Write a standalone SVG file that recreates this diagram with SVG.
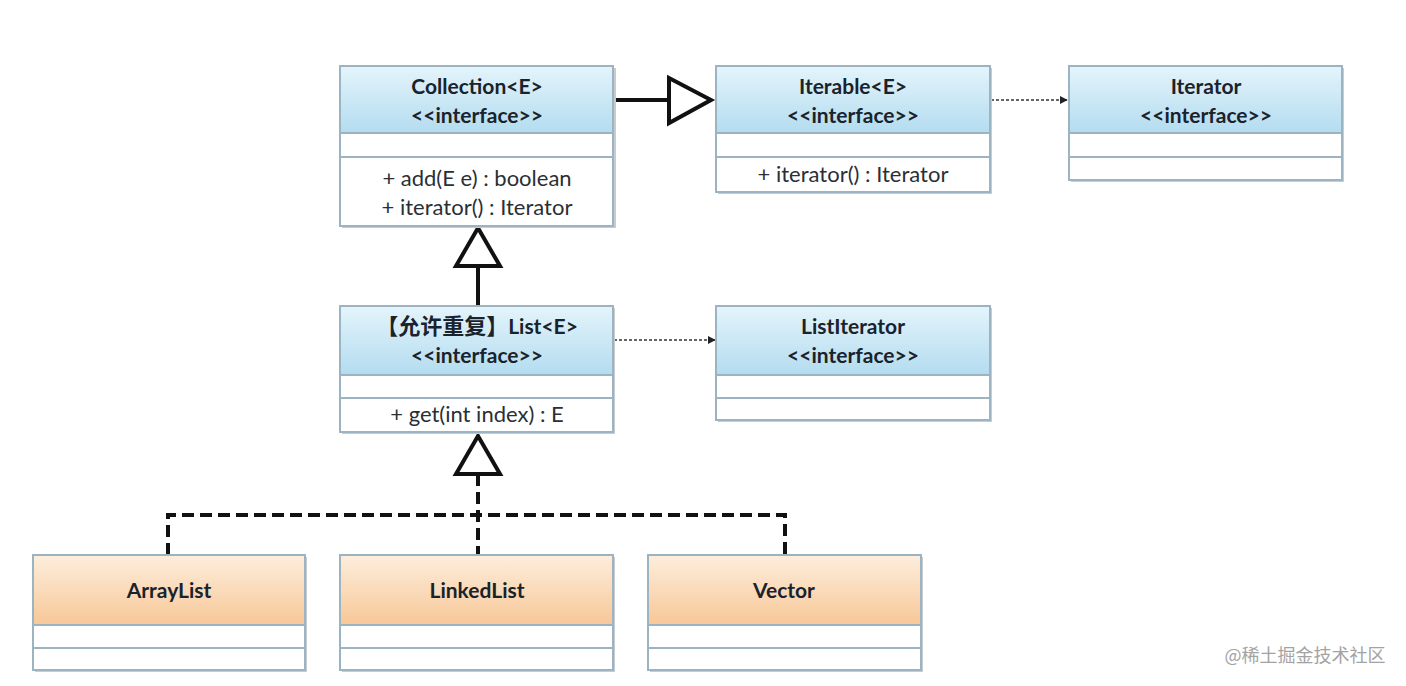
<svg xmlns="http://www.w3.org/2000/svg" width="1406" height="686" viewBox="0 0 1406 686">
<defs>
<linearGradient id="blue" x1="0" y1="0" x2="0" y2="1">
<stop offset="0" stop-color="#e4f4fb"/>
<stop offset="1" stop-color="#b3dcf0"/>
</linearGradient>
<linearGradient id="orange" x1="0" y1="0" x2="0" y2="1">
<stop offset="0" stop-color="#fdeedd"/>
<stop offset="1" stop-color="#f7c797"/>
</linearGradient>
<marker id="dot" viewBox="0 0 10 10" refX="9" refY="5" markerWidth="8" markerHeight="8" markerUnits="userSpaceOnUse" orient="auto">
<path d="M0,0 L10,5 L0,10 z" fill="#222"/>
</marker>
</defs>
<style>
.box{stroke:#9cb3c2;stroke-width:2}
.hb{fill:url(#blue)}
.ho{fill:url(#orange)}
.cp{fill:#ffffff}
.sh{fill:#c8ccd0}
.t{font-family:Lato,"Noto Sans CJK SC",sans-serif;font-weight:bold;font-size:21px;fill:#1a222b;text-anchor:middle}
.m{font-family:Lato,"Noto Sans CJK SC",sans-serif;font-size:22px;fill:#2a2f35;text-anchor:middle}
.solid{stroke:#111;stroke-width:4;fill:none}
.dash{stroke:#111;stroke-width:4;fill:none;stroke-dasharray:12 6}
.dotted{stroke:#333;stroke-width:1.5;fill:none;stroke-dasharray:3 2}
.tri{fill:#fff;stroke:#111;stroke-width:4;stroke-linejoin:miter}
</style>
<rect width="1406" height="686" fill="#ffffff"/>

<g id="connectors">
<line class="solid" x1="614" y1="100" x2="669" y2="100"/>
<polygon class="tri" points="669,78 711,100 669,123"/>
<line class="dotted" x1="991" y1="100" x2="1067" y2="100" marker-end="url(#dot)"/>
<line class="dotted" x1="614" y1="340" x2="715" y2="340" marker-end="url(#dot)"/>
<line class="solid" x1="478" y1="306" x2="478" y2="266"/>
<polygon class="tri" points="456,266 478,228 500,266"/>
<line class="dash" x1="478" y1="474" x2="478" y2="555"/>
<polygon class="tri" points="456,474 478,436 500,474"/>
<polyline class="dash" points="168,555 168,515 785,515 785,555"/>
</g>

<g id="collection">
<rect class="sh" x="342" y="68" width="274" height="160"/>
<rect class="box hb" x="340" y="66" width="273" height="67"/>
<rect class="box cp" x="340" y="133" width="273" height="24"/>
<rect class="box cp" x="340" y="157" width="273" height="69"/>
<text class="t" x="477" y="94">Collection&lt;E&gt;</text>
<text class="t" x="477" y="123">&lt;&lt;interface&gt;&gt;</text>
<text class="m" x="477" y="186">+ add(E e) : boolean</text>
<text class="m" x="477" y="215">+ iterator() : Iterator</text>
</g>

<g id="iterable">
<rect class="sh" x="718" y="68" width="274" height="126"/>
<rect class="box hb" x="716" y="66" width="274" height="67"/>
<rect class="box cp" x="716" y="133" width="274" height="24"/>
<rect class="box cp" x="716" y="157" width="274" height="35"/>
<text class="t" x="853" y="94">Iterable&lt;E&gt;</text>
<text class="t" x="853" y="123">&lt;&lt;interface&gt;&gt;</text>
<text class="m" x="853" y="182">+ iterator() : Iterator</text>
</g>

<g id="iterator">
<rect class="sh" x="1071" y="68" width="273" height="114"/>
<rect class="box hb" x="1069" y="66" width="273" height="67"/>
<rect class="box cp" x="1069" y="133" width="273" height="24"/>
<rect class="box cp" x="1069" y="157" width="273" height="23"/>
<text class="t" x="1206" y="94">Iterator</text>
<text class="t" x="1206" y="123">&lt;&lt;interface&gt;&gt;</text>
</g>

<g id="list">
<rect class="sh" x="342" y="308" width="273" height="126"/>
<rect class="box hb" x="340" y="306" width="273" height="69"/>
<rect class="box cp" x="340" y="375" width="273" height="23"/>
<rect class="box cp" x="340" y="398" width="273" height="34"/>
<text class="t" x="477" y="334"><tspan font-size="22px">【允许重复】</tspan>List&lt;E&gt;</text>
<text class="t" x="477" y="363">&lt;&lt;interface&gt;&gt;</text>
<text class="m" x="477" y="422">+ get(int index) : E</text>
</g>

<g id="listiterator">
<rect class="sh" x="718" y="308" width="274" height="114"/>
<rect class="box hb" x="716" y="306" width="274" height="69"/>
<rect class="box cp" x="716" y="375" width="274" height="23"/>
<rect class="box cp" x="716" y="398" width="274" height="22"/>
<text class="t" x="853" y="334">ListIterator</text>
<text class="t" x="853" y="363">&lt;&lt;interface&gt;&gt;</text>
</g>

<g id="arraylist">
<rect class="sh" x="35" y="557" width="272" height="115"/>
<rect class="box ho" x="33" y="555" width="272" height="70"/>
<rect class="box cp" x="33" y="625" width="272" height="23"/>
<rect class="box cp" x="33" y="648" width="272" height="22"/>
<text class="t" x="169" y="598">ArrayList</text>
</g>

<g id="linkedlist">
<rect class="sh" x="342" y="557" width="273" height="115"/>
<rect class="box ho" x="340" y="555" width="273" height="70"/>
<rect class="box cp" x="340" y="625" width="273" height="23"/>
<rect class="box cp" x="340" y="648" width="273" height="22"/>
<text class="t" x="477" y="598">LinkedList</text>
</g>

<g id="vector">
<rect class="sh" x="650" y="557" width="273" height="115"/>
<rect class="box ho" x="648" y="555" width="273" height="70"/>
<rect class="box cp" x="648" y="625" width="273" height="23"/>
<rect class="box cp" x="648" y="648" width="273" height="22"/>
<text class="t" x="784" y="598">Vector</text>
</g>

<text x="1305" y="662" font-family="'Noto Sans CJK SC',sans-serif" font-size="18px" fill="#a3a3a3" text-anchor="middle">@稀土掘金技术社区</text>
</svg>
